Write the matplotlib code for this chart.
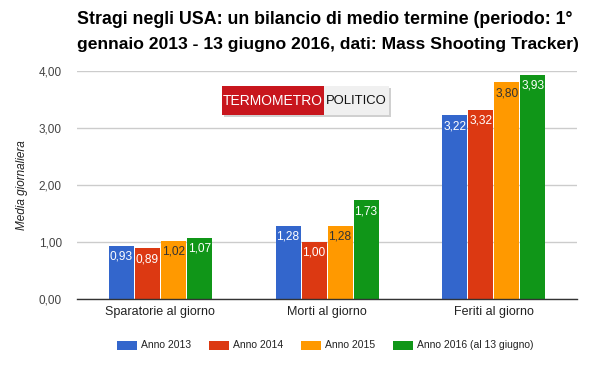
import matplotlib
matplotlib.use("Agg")
import matplotlib.pyplot as plt
import numpy as np
from matplotlib.patches import Rectangle

categories = ["Sparatorie al giorno", "Morti al giorno", "Feriti al giorno"]
series_names = ["Anno 2013", "Anno 2014", "Anno 2015", "Anno 2016 (al 13 giugno)"]
values = [
    [0.93, 1.28, 3.22],
    [0.89, 1.00, 3.32],
    [1.02, 1.28, 3.80],
    [1.07, 1.73, 3.93],
]
colors = ["#3366cc", "#dc3912", "#ff9900", "#109618"]
label_colors = ["white", "white", "#333333", "white"]
yticks = [0, 1, 2, 3, 4]

plt.rcParams['font.family'] = ['Liberation Sans', 'DejaVu Sans']

fig = plt.figure(figsize=(6, 3.71), dpi=100)
W, H = 600, 371
ax = fig.add_axes([77 / W, 1 - 299 / H, 500 / W, (299 - 71) / H])

x = np.arange(len(categories))
step = 0.156
bw = 0.150
for i, (vals, c, lc) in enumerate(zip(values, colors, label_colors)):
    pos = x + (i - 1.5) * step
    ax.bar(pos, vals, width=bw, color=c, zorder=3)
    for p, v in zip(pos, vals):
        ax.annotate(f"{v:.2f}".replace(".", ","), (p, v), xytext=(0, -3.5),
                    textcoords="offset points", ha="center", va="top",
                    fontsize=8.6, color=lc, zorder=4)

ax.set_xlim(-0.5, 2.5)
ax.set_ylim(0, 4)
ax.set_yticks(yticks)
ax.set_yticklabels([f"{t:.2f}".replace(".", ",") for t in yticks], fontsize=8.5, color="#444444")
ax.set_xticks(x)
ax.set_xticklabels(categories, fontsize=9, color="#222222")
ax.tick_params(axis="both", length=0)
ax.tick_params(axis="y", pad=11)
ax.tick_params(axis="x", pad=5)
ax.grid(axis="y", color="#cccccc", linewidth=1, zorder=0)
for s in ["top", "right", "left"]:
    ax.spines[s].set_visible(False)
ax.spines["bottom"].set_color("#333333")
ax.spines["bottom"].set_linewidth(1)
ax.spines["bottom"].set_zorder(5)

ax.set_ylabel("Media giornaliera", fontsize=8.5, style="italic", color="#222222")
ax.yaxis.set_label_coords(-(77 - 28) / 500, 0.5)

fig.text(77 / W, 1 - 20 / H, "Stragi negli USA: un bilancio di medio termine (periodo: 1°",
         fontsize=12.8, fontweight="bold", va="center", ha="left", color="black")
fig.text(77 / W, 1 - 45 / H, "gennaio 2013 - 13 giugno 2016, dati: Mass Shooting Tracker)",
         fontsize=12.6, fontweight="bold", va="center", ha="left", color="black")

# logo
fig.patches.append(Rectangle((224 / W, 1 - 117 / H), 167 / W, 29 / H, transform=fig.transFigure,
                             facecolor="#d0d0d0", edgecolor="none", zorder=9))
fig.patches.append(Rectangle((222 / W, 1 - 115 / H), 102 / W, 29 / H, transform=fig.transFigure,
                             facecolor="#c8161d", edgecolor="none", zorder=10))
fig.patches.append(Rectangle((324 / W, 1 - 115 / H), 65 / W, 29 / H, transform=fig.transFigure,
                             facecolor="#f0f0f0", edgecolor="none", zorder=10))
fig.text(273 / W, 1 - 101 / H, "TERMOMETRO", fontsize=10.0, color="white", ha="center", va="center",
         zorder=11)
fig.text(356.5 / W, 1 - 101 / H, "POLITICO", fontsize=9.4, color="#111111", ha="center", va="center",
         zorder=11)

# legend
lx = [117, 209, 301, 393]
for xx, c, name in zip(lx, colors, series_names):
    fig.patches.append(Rectangle((xx / W, 1 - 350 / H), 20 / W, 9 / H, transform=fig.transFigure,
                                 facecolor=c, edgecolor="none"))
    fig.text((xx + 24) / W, 1 - 345.5 / H, name, fontsize=7.5, color="#222222", ha="left", va="center")

fig.savefig("out.png", dpi=100)
